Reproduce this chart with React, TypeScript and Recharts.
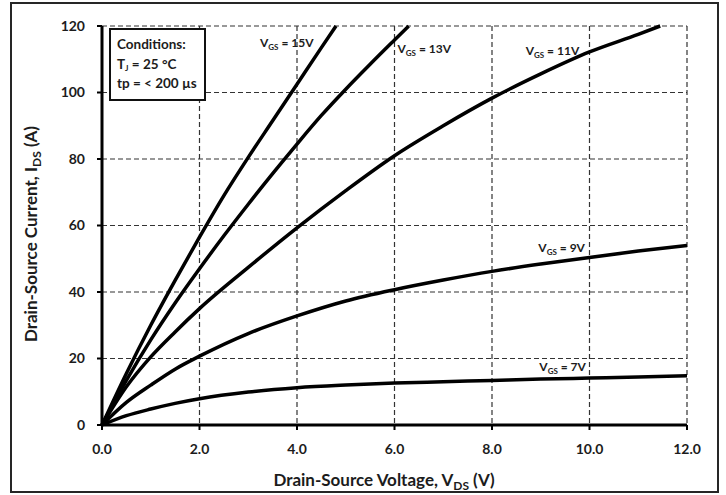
import React from "react";
import { LineChart, Line, XAxis, YAxis, CartesianGrid, ReferenceDot } from "recharts";

// ---- data ----
const xTicks = [0, 2, 4, 6, 8, 10, 12];
const yTicks = [0, 20, 40, 60, 80, 100, 120];

const vds15 = [0, 0.5, 1, 1.5, 2, 2.5, 3, 3.5, 4, 4.5, 4.8];
const ids15 = [0, 15.5, 30, 43.5, 56.5, 69, 80.5, 91.5, 102.5, 113.5, 120];

const vds13 = [0, 0.5, 1, 1.5, 2, 2.5, 3, 3.5, 4, 4.5, 5, 5.5, 6, 6.29];
const ids13 = [0, 13.4, 25.6, 36.7, 47, 56.9, 66.4, 75.6, 84.5, 93.1, 101, 108.5, 115.8, 120];

const vds11 = [0, 0.5, 1, 1.5, 2, 3, 4, 5, 6, 7, 8, 9, 10, 11, 11.45];
const ids11 = [0, 11.5, 20.5, 28, 35, 47.4, 59.3, 70.5, 81, 90, 98.3, 105.6, 112.2, 117.5, 120];

const vds9 = [0, 0.5, 1, 1.5, 2, 3, 4, 5, 6, 7, 8, 9, 10, 11, 12];
const ids9 = [0, 6.8, 12, 16.8, 20.7, 27.5, 32.8, 37.3, 40.7, 43.6, 46.2, 48.4, 50.4, 52.3, 54];

const vds7 = [0, 0.5, 1, 1.5, 2, 3, 4, 5, 6, 7, 8, 9, 10, 11, 12];
const ids7 = [0, 2.8, 4.8, 6.5, 7.9, 9.9, 11.2, 12, 12.6, 13, 13.4, 13.8, 14.1, 14.4, 14.8];

const curveNames = ["15V", "13V", "11V", "9V", "7V"];
// label anchor points (data coordinates: V, A)
const labelV = [3.24, 6.06, 8.69, 8.95, 8.97];
const labelI = [114.9, 113.0, 112.6, 53.4, 17.5];

const toPts = (xs: number[], ys: number[]) => xs.map((v, i) => ({ v, i: ys[i] }));
const series = [
  toPts(vds15, ids15),
  toPts(vds13, ids13),
  toPts(vds11, ids11),
  toPts(vds9, ids9),
  toPts(vds7, ids7),
];

const FONT = "Lato, 'Open Sans', 'DejaVu Sans', sans-serif";
const INK = "#1c1c1c";

function CurveLabel(props: any) {
  const { viewBox, tail } = props;
  return (
    <text x={viewBox.x} y={viewBox.y} dy="0.35em" fontFamily={FONT} fontWeight={700} fontSize={12} fill={INK}>
      V<tspan fontSize={8} dy={3}>GS</tspan>
      <tspan dy={-3}>{" = " + tail}</tspan>
    </text>
  );
}

function XTitle() {
  return (
    <text x={384} y={486} textAnchor="middle" fontFamily={FONT} fontWeight={700} fontSize={17} fill={INK}>
      Drain-Source Voltage, V<tspan fontSize={12} dy={4}>DS</tspan>
      <tspan dy={-4}> (V)</tspan>
    </text>
  );
}

function YTitle() {
  return (
    <text
      x={0}
      y={0}
      transform="translate(37,234) rotate(-90)"
      textAnchor="middle"
      fontFamily={FONT}
      fontWeight={700}
      fontSize={17}
      fill={INK}
    >
      Drain-Source Current, I<tspan fontSize={12} dy={4}>DS</tspan>
      <tspan dy={-4}> (A)</tspan>
    </text>
  );
}

const tickStyle = { fontFamily: FONT, fontWeight: 700, fontSize: 14, fill: INK };

export default function App() {
  return (
    <div style={{ position: "absolute", left: 0, top: 0, width: 726, height: 495, background: "#fff" }}>
      <div
        style={{
          position: "absolute",
          left: 10,
          top: 2,
          width: 709,
          height: 491,
          boxSizing: "border-box",
          border: "2.5px solid #262626",
        }}
      />
      <div style={{ position: "absolute", left: 0, top: 0 }}>
        <LineChart width={726} height={495} margin={{ top: 26, right: 39, bottom: 40, left: 42 }}>
          <CartesianGrid stroke="#333" strokeDasharray="5 3" strokeWidth={1.2} />
          <XAxis
            type="number"
            dataKey="v"
            domain={[0, 12]}
            ticks={xTicks}
            interval={0}
            height={30}
            allowDuplicatedCategory={false}
            tickFormatter={(t: number) => t.toFixed(1)}
            tick={tickStyle}
            tickSize={5}
            tickMargin={14}
            axisLine={{ stroke: "#000", strokeWidth: 3 }}
            tickLine={{ stroke: "#000", strokeWidth: 2 }}
            label={<XTitle />}
          />
          <YAxis
            type="number"
            dataKey="i"
            domain={[0, 120]}
            ticks={yTicks}
            interval={0}
            width={60}
            tick={tickStyle}
            tickSize={5}
            tickMargin={12}
            axisLine={{ stroke: "#000", strokeWidth: 3 }}
            tickLine={{ stroke: "#000", strokeWidth: 2 }}
            label={<YTitle />}
          />
          {series.map((d, k) => (
            <Line
              key={curveNames[k]}
              data={d}
              dataKey="i"
              type="monotone"
              stroke="#000"
              strokeWidth={3.5}
              dot={false}
              activeDot={false}
              isAnimationActive={false}
            />
          ))}
          {curveNames.map((n, k) => (
            <ReferenceDot
              key={"lbl" + n}
              x={labelV[k]}
              y={labelI[k]}
              r={0}
              fill="none"
              stroke="none"
              label={<CurveLabel tail={n} />}
            />
          ))}
        </LineChart>
      </div>
      <div
        style={{
          position: "absolute",
          left: 109,
          top: 28,
          width: 97,
          height: 73,
          boxSizing: "border-box",
          border: "2px solid #111",
          background: "#fff",
          padding: "5px 0 0 6px",
          fontFamily: FONT,
          fontWeight: 700,
          fontSize: 13.5,
          lineHeight: "19.5px",
          color: INK,
          whiteSpace: "nowrap",
        }}
      >
        <div>Conditions:</div>
        <div>
          T<sub style={{ fontSize: 8, verticalAlign: "-2px", lineHeight: 0 }}>J</sub> = 25 °C
        </div>
        <div>tp = &lt; 200 µs</div>
      </div>
    </div>
  );
}
